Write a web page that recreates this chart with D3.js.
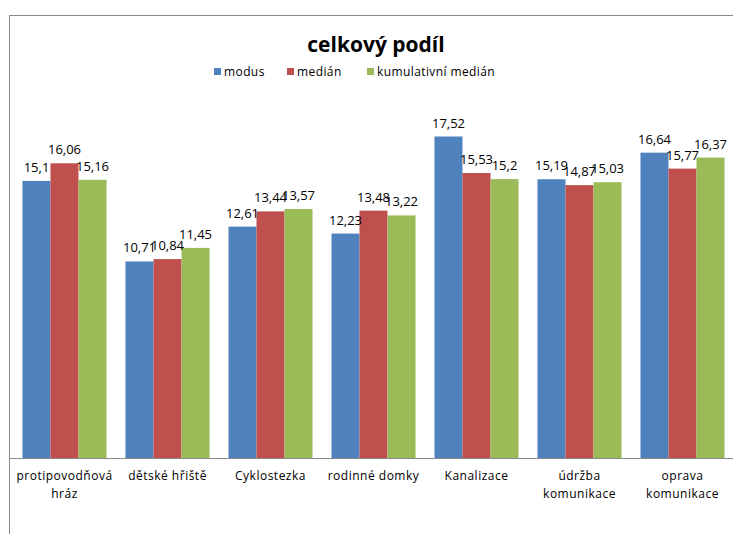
<!DOCTYPE html>
<html>
<head>
<meta charset="utf-8">
<script src="https://cdn.jsdelivr.net/npm/d3@7"></script>
<style>
  body { margin: 0; background: #fff; }
  text { font-family: "Open Sans", sans-serif; fill: #000; }
</style>
</head>
<body>
<div id="chart"></div>
<script>
(function() {
  var width = 733,
      height = 534;

  // data
  var categories = ["protipovodňová hráz", "dětské hřiště", "Cyklostezka", "rodinné domky",
                    "Kanalizace", "údržba komunikace", "oprava komunikace"];
  var catLines = [["protipovodňová", "hráz"], ["dětské hřiště"], ["Cyklostezka"], ["rodinné domky"],
                  ["Kanalizace"], ["údržba", "komunikace"], ["oprava", "komunikace"]];
  var seriesNames = ["modus", "medián", "kumulativní medián"];
  var modus = [15.1, 10.71, 12.61, 12.23, 17.52, 15.19, 16.64];
  var median = [16.06, 10.84, 13.44, 13.48, 15.53, 14.87, 15.77];
  var kumMedian = [15.16, 11.45, 13.57, 13.22, 15.2, 15.03, 16.37];
  var colors = ["#4F81BD", "#C0504D", "#9BBB59"];

  var series = [modus, median, kumMedian];

  var svg = d3.select("#chart")
        .append("svg")
        .attr("width", width)
        .attr("height", height);

  // outer frame (goes off the page right and bottom)
  svg.append("path")
    .attr("d", "M9.5," + height + "V15.5H" + width)
    .attr("fill", "none")
    .attr("stroke", "#888")
    .attr("stroke-width", 1);

  var x0 = d3.scaleBand()
    .domain(categories)
    .range([13, 734])
    .paddingInner(0.184)
    .paddingOuter(0.092);

  var x1 = d3.scaleBand()
    .domain(seriesNames)
    .range([0, x0.bandwidth()]);

  var y = d3.scaleLinear()
    .domain([0, 20])
    .range([458, 91]);

  // bars
  var groups = svg.selectAll(".cat")
    .data(categories)
    .enter().append("g")
    .attr("class", "cat")
    .attr("transform", function(d) { return "translate(" + x0(d) + ",0)"; });

  groups.selectAll("rect")
    .data(function(d, i) {
      return series.map(function(s, j) { return {name: seriesNames[j], value: s[i], color: colors[j]}; });
    })
    .enter().append("rect")
    .attr("x", function(d) { return x1(d.name); })
    .attr("width", x1.bandwidth())
    .attr("y", function(d) { return y(d.value); })
    .attr("height", function(d) { return y(0) - y(d.value); })
    .attr("fill", function(d) { return d.color; });

  groups.selectAll(".lbl")
    .data(function(d, i) {
      return series.map(function(s, j) { return {name: seriesNames[j], value: s[i]}; });
    })
    .enter().append("text")
    .attr("class", "lbl")
    .attr("x", function(d) { return x1(d.name) + x1.bandwidth() / 2; })
    .attr("y", function(d) { return y(d.value) - 9; })
    .attr("text-anchor", "middle")
    .style("font-size", "13px")
    .text(function(d) { return String(d.value).replace(".", ","); });

  // baseline
  svg.append("line")
    .attr("x1", 9).attr("x2", width)
    .attr("y1", y(0) + 0.5).attr("y2", y(0) + 0.5)
    .attr("stroke", "#888");

  // category labels
  svg.selectAll(".catlbl")
    .data(categories)
    .enter().append("text")
    .attr("class", "catlbl")
    .attr("text-anchor", "middle")
    .style("font-size", "12px")
    .style("letter-spacing", "0.5px")
    .attr("transform", function(d) { return "translate(" + (x0(d) + x0.bandwidth() / 2) + ",480)"; })
    .selectAll("tspan")
    .data(function(d, i) { return catLines[i]; })
    .enter().append("tspan")
    .attr("x", 0)
    .attr("dy", function(d, i) { return i ? 18 : 0; })
    .text(function(d) { return d; });

  // title
  svg.append("text")
    .attr("x", 376)
    .attr("y", 52)
    .attr("text-anchor", "middle")
    .style("font-size", "21px")
    .style("font-weight", "bold")
    .text("celkový podíl");

  // legend
  var legendX = [214, 287, 367];
  var legend = svg.selectAll(".leg")
    .data(seriesNames)
    .enter().append("g")
    .attr("class", "leg")
    .attr("transform", function(d, i) { return "translate(" + legendX[i] + ",68)"; });

  legend.append("rect")
    .attr("width", 7).attr("height", 7)
    .attr("fill", function(d, i) { return colors[i]; });

  legend.append("text")
    .attr("x", 10)
    .attr("y", 8)
    .style("font-size", "12px")
    .style("letter-spacing", "0.4px")
    .text(function(d) { return d; });
})();
</script>
</body>
</html>
